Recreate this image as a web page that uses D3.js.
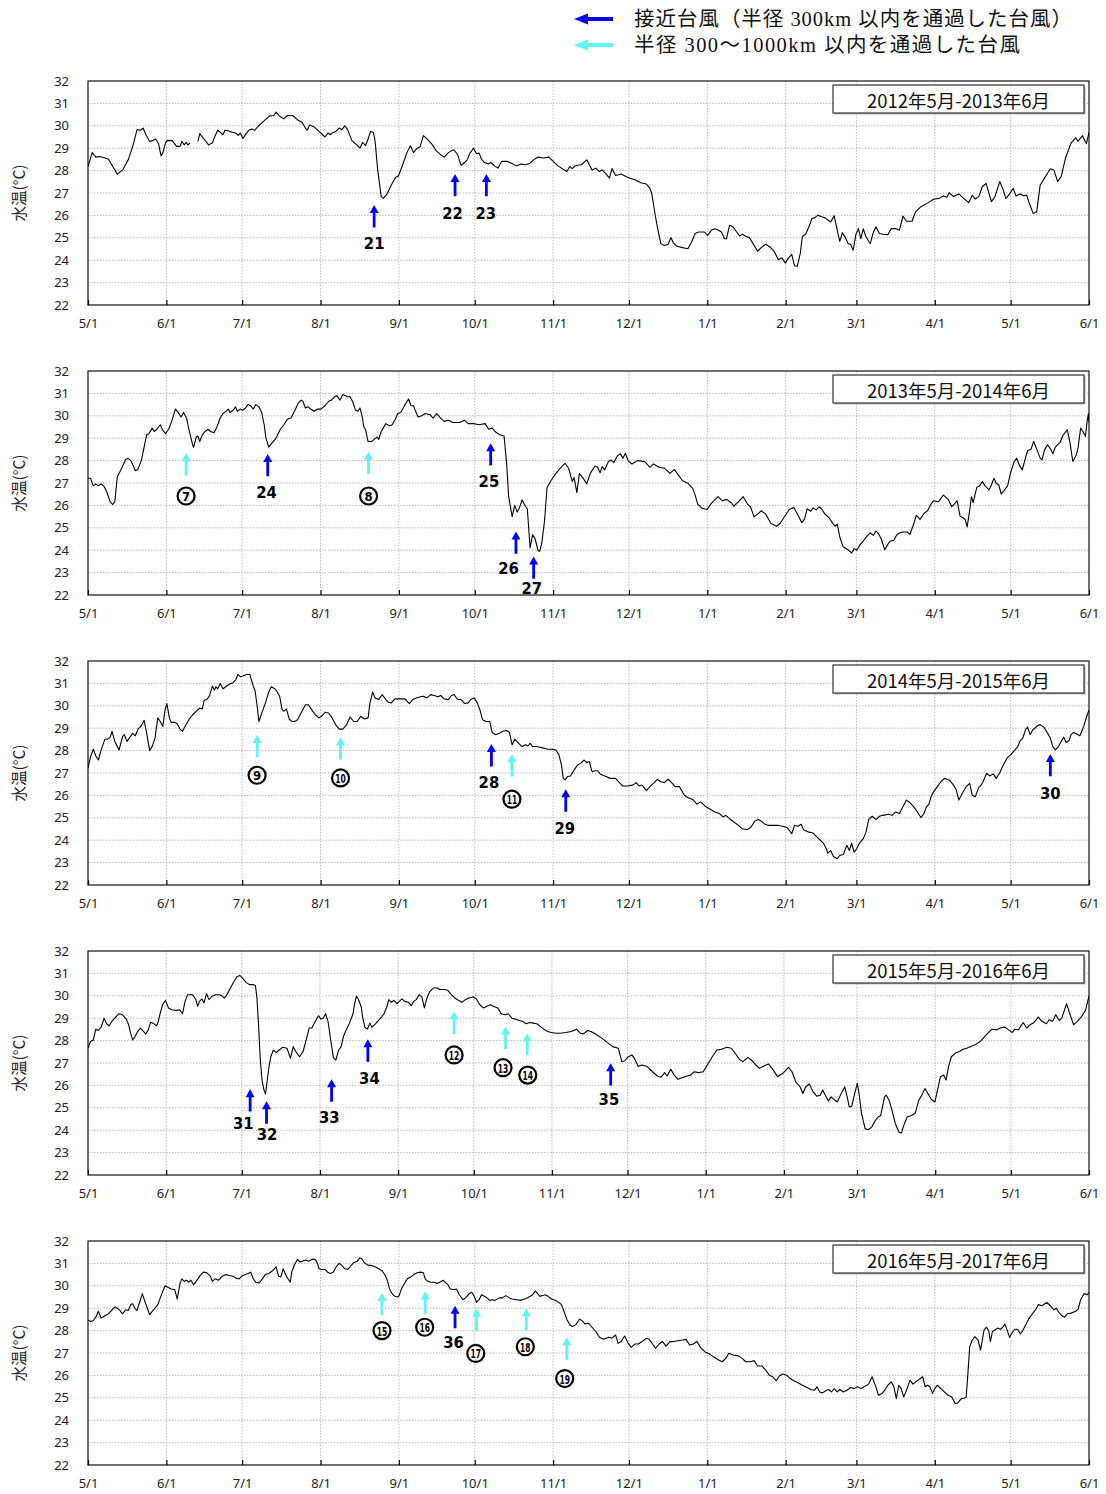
<!DOCTYPE html>
<html>
<head>
<meta charset="utf-8">
<script src="https://cdn.jsdelivr.net/npm/d3@7"></script>
<style>
  body { margin: 0; background: #fff; }
  svg { display: block; }
</style>
</head>
<body>
<svg id="chart" width="1106" height="1494"></svg>
<script>
// ---- Data -------------------------------------------------------------
// Daily water temperature (°C); each pair is [days since 1 May, °C].
const startYears = [2012, 2013, 2014, 2015, 2016];
const panelTitles = ["2012年5月-2013年6月", "2013年5月-2014年6月", "2014年5月-2015年6月",
                     "2015年5月-2016年6月", "2016年5月-2017年6月"];
const monthLabels = ["5/1","6/1","7/1","8/1","9/1","10/1","11/1","12/1","1/1","2/1","3/1","4/1","5/1","6/1"];
const tempTicks = [22, 23, 24, 25, 26, 27, 28, 29, 30, 31, 32];
const legendLabels = ["接近台風（半径 300km 以内を通過した台風）", "半径 300〜1000km 以内を通過した台風"];

const temps2012 = [[0,28.18],[1.7,28.81],[3.1,28.6],[4.5,28.63],[6.7,28.56],[8.1,28.51],[11.6,27.84],[13.7,28.03],[15.9,28.48],[17.7,29.08],[19.4,29.83],[20.8,29.8],[21.8,29.9],[22.9,29.6],[24.4,29.3],[25.8,29.35],[26.8,29.41],[27.9,29.2],[28.9,28.66],[29.6,28.78],[30.7,29.26],[31.4,29.35],[33.3,29.34],[35,29.08],[36.4,29.08],[37.1,29.3],[38.1,29.15],[38.8,29.26],[39.5,29.15],[40.4,29.23],[42,null],[43.5,29.3],[44.2,29.65],[45.9,29.41],[47.7,29.15],[49.2,29.23],[50.3,29.56],[51.3,29.8],[52.3,29.71],[53.4,29.6],[54.2,29.8],[55.5,29.78],[56.9,29.71],[58.4,29.68],[59.5,29.57],[60.2,29.68],[61.3,29.43],[62.5,29.65],[63.6,29.8],[64.7,29.86],[65.9,29.8],[67.3,29.98],[69.4,30.2],[71.8,30.43],[73.5,30.46],[74.4,30.61],[76.1,30.4],[77.5,30.31],[78.9,30.46],[81,30.46],[83.1,30.25],[84.6,30.17],[86,29.9],[86.7,29.8],[87.7,30.04],[89.5,29.95],[91.4,29.75],[92.8,29.6],[93.8,29.5],[94.9,29.68],[95.9,29.6],[96.6,29.68],[98,29.75],[99.4,29.9],[100.4,29.83],[101.6,30],[102.7,29.83],[104.4,29.34],[105.8,29.2],[107.6,29],[108.6,29.26],[109.8,29.11],[110.8,29.41],[111.8,29.75],[112.9,29.71],[113.6,29.3],[114.6,28.03],[116,26.84],[116.9,26.76],[118.3,26.96],[120,27.36],[121.7,27.7],[122.8,27.76],[124.5,28.26],[126.1,28.78],[127.5,29.11],[128.8,28.81],[130.2,29],[131.3,29.05],[132.7,29.56],[134.4,29.38],[136.3,29.15],[137.7,28.89],[139.5,28.71],[140.9,28.6],[142.4,28.78],[143.8,28.89],[144.8,28.93],[146.2,28.71],[147.6,28.23],[149,28.36],[150,28.48],[151.1,28.78],[152.5,29],[153.7,28.75],[154.7,28.78],[155.7,28.51],[156.8,28.36],[158.5,28.3],[159.3,28.36],[160.8,28.21],[162.2,28.11],[163.6,28.41],[166,28.41],[168.1,28.3],[169.5,28.21],[171.2,28.29],[173.1,28.26],[174.9,28.33],[176.6,28.51],[178,28.6],[180.2,28.56],[182.3,28.6],[185.9,28.21],[189.4,27.96],[190.6,28.18],[191.6,28.09],[193,28.23],[195.2,28.26],[197.3,28.48],[199.4,28.03],[200.9,28.11],[202.3,27.96],[203.4,28.03],[204.9,27.85],[206.3,27.66],[207.3,28.09],[208.7,27.78],[210.9,27.85],[213,27.73],[214.5,27.66],[216.6,27.58],[218.7,27.46],[220.9,27.4],[222.3,27.21],[223,26.99],[224.5,25.94],[225.5,25.34],[226.6,24.74],[228,24.66],[229.5,24.71],[230.6,25.01],[231.6,24.77],[233,24.62],[235.2,24.56],[237.3,24.51],[238.8,24.81],[240.2,25.19],[241.6,25.26],[243.8,25.26],[245.2,25.11],[246.6,25.34],[248,25.4],[249.5,25.34],[250.6,25.26],[251.8,24.96],[252.6,24.96],[253.8,25.56],[255.2,25.49],[256.6,25.26],[257.8,25.08],[258.9,25.16],[260.2,25.07],[261.6,25.01],[263.1,24.74],[264.9,24.4],[266.3,24.56],[268.1,24.71],[269.8,24.59],[271.6,24.37],[273.1,24.02],[274.5,24.11],[275.9,23.87],[276.9,24.07],[278.4,24.26],[279.5,23.75],[280.6,23.72],[281.8,24.32],[282.6,25.07],[283.8,25.14],[285.2,25.49],[286.4,25.86],[287.4,25.89],[288.8,26.01],[290.2,25.94],[291.6,25.89],[293.1,25.76],[293.8,25.71],[295.2,25.98],[296.4,25.34],[297.4,24.84],[298.4,25.22],[299.5,25.04],[300.7,24.74],[301.7,24.71],[302.7,24.44],[303.8,25.16],[304.8,25.41],[305.7,24.96],[306.7,25.4],[307.7,25.07],[308.8,24.86],[309.5,24.74],[310.5,25.19],[311.7,25.49],[313.1,25.19],[314.5,25.16],[316.4,25.14],[317.8,25.41],[319.5,25.41],[321,25.34],[322.4,25.97],[323.8,25.74],[326,25.74],[327.4,26.16],[329.5,26.39],[332.4,26.57],[334.5,26.72],[336.7,26.76],[338.4,26.87],[339.8,26.81],[340.7,27.01],[342.4,26.84],[344.5,26.96],[346.4,26.76],[348.4,26.57],[349.8,26.9],[351,26.73],[352.4,26.84],[353.8,27.28],[355.3,27.43],[356.4,26.99],[357.4,26.61],[358.8,26.84],[360.7,27.51],[362.1,27.13],[363.1,26.75],[364.6,26.96],[366,27.21],[367.1,26.87],[368.8,26.96],[370.3,26.87],[371.3,26.91],[372.4,26.54],[373.9,26.09],[375.3,26.16],[376.7,27.36],[378.9,27.76],[380.7,28.08],[382.1,28.03],[383.6,27.51],[385,27.73],[386.7,28.56],[388.9,29.23],[390.7,29.46],[391.7,29.31],[393.4,29.56],[395,29.2],[396,29.71]];

const temps2013 = [[0,27.21],[1,27.21],[2.1,26.87],[3.1,26.96],[4.1,26.87],[5.2,26.96],[6.4,26.84],[7.4,26.61],[8.8,26.16],[9.8,26.04],[10.6,26.16],[11.6,27.28],[13,27.58],[14.9,28.05],[15.9,28.1],[16.9,28],[18,27.75],[18.7,27.55],[19.7,27.6],[21.1,28],[22.2,28.6],[23.2,29.15],[24.1,29.2],[25.4,29.45],[26.2,29.3],[27.2,29.4],[28.6,29.6],[29.6,29.35],[30.7,29.2],[31.9,29.4],[33.1,29.75],[34.6,30.3],[35.7,30.15],[36.8,29.95],[37.8,30.15],[39,29.9],[39.9,29.4],[41.4,28.7],[41.8,28.6],[42.8,29.05],[43.5,29.1],[44.2,28.85],[45.2,29.15],[46.3,29.3],[47.5,29.4],[48.4,29.3],[49.9,29.25],[51,29.5],[52.3,29.9],[53.4,30.1],[54.5,30.2],[55.5,30.3],[56.2,30.15],[57.4,30.25],[58.4,30.4],[59.1,30.2],[60.2,30.3],[61.2,30.25],[62.3,30.35],[63.3,30.5],[64.4,30.45],[65.4,30.3],[66.4,30.5],[67.6,30.4],[68.7,30.15],[69.7,29.6],[70.4,29],[71.5,28.6],[72.5,28.75],[73.7,28.9],[74.6,29.05],[76.1,29.4],[77.5,29.6],[78.9,29.85],[80.3,29.9],[81.7,30.2],[83.1,30.55],[84.3,30.7],[85,30.65],[86,30.35],[87.1,30.4],[88.1,30.3],[89.5,30.2],[90.9,30.3],[92.1,30.3],[93.8,30.45],[95.2,30.65],[96.3,30.7],[97.6,30.85],[98.4,30.9],[99.7,30.7],[100.8,30.95],[102.7,30.85],[103.7,30.85],[104.8,30.6],[105.8,30.25],[106.8,30.2],[107.6,30.35],[108.6,29.9],[109.1,29.5],[109.8,29.4],[110.8,28.85],[112.2,28.85],[113.2,28.95],[114.3,29.05],[115,28.95],[116,29.3],[117.8,29.65],[119.3,29.55],[120.3,29.6],[121.4,29.8],[122.5,30.1],[123.7,30.15],[125.2,30.45],[126.8,30.75],[127.8,30.45],[128.8,30.45],[129.6,30.2],[130.6,29.95],[132,30],[133.4,30.1],[135.3,30.05],[136.5,29.9],[138,30.1],[139.5,29.9],[140.9,29.75],[142.6,29.8],[144.3,29.7],[146.9,29.7],[149,29.8],[150.4,29.65],[152.5,29.65],[154.7,29.6],[157.1,29.65],[158.5,29.4],[159.9,29.45],[161,29.3],[162.9,29.15],[164.6,29.1],[165.6,27.9],[166.4,26.4],[167.8,25.5],[168.8,26],[169.8,25.7],[170.7,25.9],[171.7,26.25],[173.1,25.95],[173.8,25.85],[174.9,24.1],[175.9,24.7],[176.9,24.5],[178,24],[178.7,23.95],[179.5,24.3],[180.6,25.3],[181.6,26.8],[182.6,27],[183.7,27.2],[185.1,27.43],[186.9,27.66],[188.7,27.88],[190.1,27.66],[191.6,27.06],[192.3,27.25],[193.4,26.57],[194.4,27.43],[195.9,27.21],[197.3,26.96],[198.7,27.43],[200.6,27.76],[201.6,27.7],[202.6,27.46],[203.4,27.73],[204.4,27.58],[205.9,27.96],[206.9,28.03],[208,27.91],[209.4,28.21],[210.6,28.3],[211.6,28.11],[212.6,28.33],[213.7,27.99],[215.2,27.85],[217.3,28],[220.2,27.96],[222.3,27.7],[223.7,27.85],[225.9,27.7],[228,27.66],[230.2,27.43],[232,27.61],[233.5,27.36],[235.2,27.1],[237.3,26.99],[239.2,26.76],[240.2,26.46],[241.2,26.06],[243,25.87],[244.9,25.82],[246.6,26.09],[249.2,26.39],[250.9,26.21],[252.6,26.27],[254.5,26.12],[255.5,25.97],[257.3,26.16],[259.2,26.39],[260.9,26.06],[262.1,25.94],[263.5,25.49],[264.9,25.61],[266.3,25.76],[268.1,25.61],[270.2,25.19],[272.3,25.07],[273.8,25.19],[275.5,25.49],[277.4,25.82],[279.2,25.91],[280.9,25.56],[282.4,25.23],[283.5,25.4],[284.5,25.85],[285.9,25.74],[286.9,25.89],[288.1,25.8],[289.2,25.94],[290.2,25.85],[291.6,25.6],[293.1,25.46],[294.5,25.22],[295.5,25.07],[296.4,25.16],[297.4,24.59],[298.8,24.14],[300.7,24.02],[302.1,23.87],[303.1,24.07],[304.2,24],[305.5,24.26],[306.7,24.41],[308.1,24.62],[309.5,24.77],[310.7,24.66],[311.7,24.86],[312.7,24.74],[313.8,24.51],[315.2,24.02],[316.4,24.26],[317.4,24.41],[318.8,24.44],[319.8,24.66],[321,24.77],[322.4,24.81],[324.1,24.81],[325.2,24.71],[326.7,25.19],[327.7,25.56],[329.2,25.37],[330.7,25.64],[332.1,25.76],[333.5,26.06],[334.5,26.21],[336.4,26.16],[338.4,26.46],[340.3,26.27],[341.7,25.94],[342.7,26.06],[343.8,26.21],[345,25.52],[346,25.46],[347,25.37],[347.8,25.04],[348.8,25.79],[349.5,26.39],[350.2,26.12],[351.6,26.81],[352.7,26.87],[353.8,27.06],[354.9,26.87],[356.4,26.69],[357.4,26.91],[358.4,27.21],[359.3,26.99],[360.3,26.91],[361.3,26.51],[362.4,26.66],[363.8,26.87],[364.9,27.43],[366.4,27.96],[367.4,28.11],[368.4,27.81],[369.6,27.58],[371,28.18],[371.7,28.45],[373.1,28.51],[374.1,28.86],[375.3,28.51],[376.7,28.11],[377.4,28.03],[378.4,28.48],[379.6,28.71],[381,28.48],[381.7,28.3],[382.7,28.6],[383.6,28.71],[384.6,28.81],[385.6,29.11],[387.4,29.38],[388.4,28.86],[389.6,27.96],[391,28.26],[391.7,28.6],[392.7,29.45],[393.6,29.3],[394.6,29.08],[395.3,29.8],[395.8,30.1],[396,29.7]];

const temps2014 = [[0,27.21],[1,27.73],[2.1,28.06],[3.1,27.76],[4.1,27.58],[5.2,28.03],[6.7,28.51],[7.8,28.51],[8.8,28.6],[9.5,28.86],[10.6,28.41],[12.3,28.03],[13.7,28.63],[14.4,28.71],[15.4,28.41],[16.6,28.6],[17.7,28.78],[18.7,28.66],[19.8,28.96],[21.1,29.11],[22.2,29.35],[23.2,28.78],[24.4,28],[25.4,28.18],[26.5,28.56],[27.6,29.46],[28.6,29.3],[29.6,29.08],[30.5,29.83],[31.2,30.1],[32.2,29.46],[32.9,29.26],[34.3,29.26],[35.3,29.2],[36.4,28.96],[37.4,28.86],[38.5,29.11],[39.9,29.38],[41.4,29.6],[43.2,29.8],[44.2,29.9],[45.2,29.86],[46,30.25],[47,30.28],[48,30.43],[49.2,30.88],[50,30.7],[50.6,30.85],[51.3,30.76],[52.3,31],[53.4,30.76],[54.5,30.85],[55.9,30.96],[57.4,31.03],[58.4,31.15],[59.3,31.4],[60.2,31.3],[61.2,31.33],[62.6,31.4],[64,31.4],[65.4,30.88],[66.1,30.66],[66.9,30],[67.6,29.3],[69,29.75],[70.4,30.2],[71.5,30.61],[72.5,30.85],[73.9,30.76],[74.6,30.66],[75.8,30.43],[76.8,29.83],[77.5,29.76],[78.5,29.86],[79.6,29.41],[80.6,29.3],[81.7,29.3],[82.9,29.38],[84.6,29.75],[86,30.05],[87.1,30.05],[88.5,29.83],[89.9,29.6],[91.4,29.46],[92.4,29.53],[93.8,29.71],[95.2,29.68],[96.6,29.46],[98,29.15],[99.4,28.96],[100.8,28.96],[102.3,29.15],[103.7,29.5],[105.1,29.3],[106.5,29.3],[107.9,29.53],[109.3,29.41],[110.8,29.46],[111.5,30.1],[112.6,30.61],[113.6,30.35],[115,30.28],[116.4,30.5],[117.8,30.28],[118.8,30.16],[120,30.13],[121.4,30.31],[123.5,30.31],[125.4,30.31],[127.1,30.1],[128.5,30.28],[129.9,30.35],[131.6,30.4],[132.7,30.43],[134.1,30.35],[135.6,30.5],[137,30.46],[138.4,30.4],[139.5,30.46],[140.9,30.31],[142.6,30.28],[143.8,30.46],[144.8,30.5],[146.2,30.28],[147.6,30.28],[149,30.1],[150.4,30.13],[151.4,30.28],[152.8,30.35],[154,30.13],[155.1,29.8],[156.1,29.38],[157.5,29.3],[158.9,29.3],[159.9,28.81],[161.3,28.71],[162.7,28.78],[164.2,28.86],[165.6,28.9],[166.7,28.81],[167.8,28.26],[168.8,28.51],[170.3,28.33],[171.7,28.18],[173.1,28.26],[174.1,28.21],[174.9,28.33],[175.9,28.18],[177.3,28.18],[178.8,28.15],[180.2,28.11],[182,28.06],[183.7,28.06],[185.1,28.03],[186.3,27.81],[187.3,27.36],[188,26.76],[188.7,26.69],[189.7,26.84],[190.9,26.87],[192.3,27.13],[193.7,27.36],[194.9,27.43],[196.3,27.58],[197.3,27.46],[198.3,27.51],[199.4,27.06],[200.6,27.1],[201.6,27.1],[202.6,26.96],[204.4,26.87],[206.6,26.76],[208.7,26.76],[210.2,26.57],[211.6,26.42],[213.4,26.42],[215.5,26.46],[216.9,26.57],[218,26.42],[219.2,26.46],[220.9,26.21],[222.3,26.39],[223.7,26.54],[225.2,26.72],[226.6,26.61],[228,26.57],[229.5,26.72],[230.9,26.57],[232.3,26.39],[234,26.39],[235.9,26.01],[237.3,25.91],[239.2,25.82],[240.9,25.61],[242.3,25.71],[244.5,25.49],[246.3,25.37],[248,25.26],[249.8,25.19],[251.2,25.04],[252.3,25.11],[253.8,24.96],[255.5,24.81],[257.3,24.66],[258.8,24.51],[260.9,24.47],[262.3,24.59],[263.8,24.86],[265.2,24.92],[266.3,24.86],[267.8,24.71],[269.2,24.66],[270.9,24.66],[273.1,24.66],[274.9,24.62],[276.6,24.56],[278.4,24.29],[279.5,24.66],[280.9,24.62],[282.1,24.71],[283.1,24.47],[285.2,24.36],[286.9,24.32],[288.4,24.14],[289.5,24.02],[290.9,23.87],[292.1,23.62],[292.6,23.42],[293.8,23.54],[294.9,23.27],[296.4,23.17],[297.4,23.32],[298.8,23.36],[300.2,23.77],[301.2,23.54],[302.1,23.87],[303.1,23.47],[304.1,23.62],[305.2,23.87],[306.7,24.07],[307.8,24.36],[308.8,24.92],[310.2,25.07],[311.7,24.92],[313.1,25.07],[314.5,25.11],[316.7,25.16],[318.1,25.11],[319.5,25.26],[321,25.19],[322.4,25.49],[323.8,25.79],[325.2,25.67],[326.7,25.49],[328.1,25.26],[329.5,25.01],[330.7,25.19],[331.7,25.49],[332.7,25.61],[333.5,25.94],[334.5,26.16],[336,26.39],[337.4,26.61],[338.8,26.76],[339.8,26.72],[341,26.66],[342.4,26.46],[343.5,26.24],[344.5,25.79],[346,26.12],[347.4,26.39],[348.8,26.54],[349.8,26.01],[351,25.94],[352.4,26.36],[353.1,26.42],[354.1,26.61],[355.5,26.99],[356.7,26.87],[358.1,26.96],[359.3,26.76],[360.7,27.01],[362.1,27.36],[363.8,27.7],[365,27.81],[366.7,28.03],[367.8,28.18],[368.8,28.45],[369.8,28.56],[370.9,28.93],[371.7,29.05],[372.7,28.71],[373.8,28.93],[374.6,29],[375.6,29.11],[376.7,29.16],[378.1,29.05],[379.6,28.78],[380.7,28.56],[381.7,28.18],[382.7,28.03],[383.9,28.18],[385,28.41],[386,28.6],[387,28.36],[388.1,28.45],[388.9,28.71],[389.9,28.81],[391,28.75],[392.4,28.66],[393.9,29.08],[395.3,29.6],[396,29.8]];

const temps2015 = [[0,27.66],[1,27.96],[2.1,28.03],[3.1,28.51],[4.1,28.45],[5.2,28.6],[6.4,29],[7.4,28.75],[8.4,28.66],[9.5,28.86],[10.6,29],[12.3,29.2],[13.7,29.15],[15.2,28.96],[16.1,28.71],[16.9,28.33],[17.7,28.03],[18.7,28.18],[19.7,28.41],[20.8,28.56],[22,28.41],[22.9,28.3],[23.9,28.48],[24.8,28.81],[25.8,28.78],[27.2,28.66],[27.9,28.86],[28.6,29.2],[29.6,29.6],[30.7,29.8],[31.9,29.46],[33.3,29.38],[35,29.35],[36.4,29.38],[37.5,29.2],[38.5,29.75],[39.5,30.05],[41.4,30.05],[42.8,29.83],[43.5,29.53],[44.2,29.75],[45.2,29.86],[46,29.68],[47,30.1],[48,29.83],[49.2,29.98],[50.6,30.05],[52,30.05],[53.1,30],[54.1,29.9],[55.1,30.05],[56.2,30.28],[57.6,30.58],[59.1,30.85],[60.2,30.91],[61.2,30.8],[62.6,30.61],[64,30.5],[65.4,30.5],[66.4,30.46],[67,29.9],[67.6,28.78],[68.3,27.21],[69,26.24],[69.8,25.79],[70.4,25.61],[71.1,26.24],[71.8,26.84],[72.5,27.28],[73.5,27.58],[74.6,27.46],[75.8,27.58],[77.2,27.7],[78.9,27.66],[80.3,27.21],[81.4,27.73],[82.4,27.51],[83.9,27.28],[85.3,27.51],[86.7,28.11],[87.7,28.56],[88.8,28.56],[89.9,28.81],[91.4,29.11],[92.4,28.96],[93.3,29],[94.2,29.2],[95.2,28.86],[96.2,28.06],[97.3,27.25],[98.3,27.13],[99.4,27.58],[100.4,27.73],[101.3,28.18],[102.3,28.45],[103.7,28.78],[105.1,29.2],[105.8,29.68],[106.5,29.98],[107.2,29.86],[108.4,29.5],[108.9,29.05],[109.8,28.6],[110.8,28.51],[111.8,28.78],[112.6,28.6],[114,28.75],[115.4,28.93],[116.4,29.05],[117.4,29.2],[118.6,29.53],[119.3,29.83],[120.3,29.71],[121.4,29.8],[122.5,29.65],[123.5,29.75],[124.5,29.86],[125.6,29.75],[127.1,29.71],[128.2,29.56],[129.2,29.75],[130.2,29.83],[131.3,30.05],[132.4,29.95],[133.4,29.46],[134.4,29.9],[135.6,30.2],[137,30.35],[138.4,30.35],[139.5,30.28],[141.5,30.28],[142.6,30.25],[144.1,30.05],[145.5,29.9],[146.9,29.8],[148.3,29.71],[149.7,29.83],[151.1,29.9],[152.8,29.95],[154,29.86],[155.4,29.6],[156.8,29.46],[158.2,29.53],[159.6,29.6],[160.8,29.53],[162.5,29.46],[163.9,29.2],[165.3,29.15],[166.7,29.2],[168.1,29],[169.5,28.96],[171,28.9],[172.4,28.86],[173.8,28.75],[175.2,28.81],[176.6,28.78],[178,28.75],[179.7,28.6],[181.2,28.48],[182.3,28.41],[183.7,28.36],[185.8,28.33],[187.3,28.33],[189.5,28.36],[191.6,28.41],[193.8,28.51],[195.2,28.33],[196.6,28.3],[198.1,28.45],[199.5,28.41],[201.7,28.26],[203.8,28.11],[206,27.91],[208.1,27.73],[210.3,27.66],[211.7,27.06],[212.9,27.1],[214.3,27.28],[215.7,27.36],[216.7,27.21],[218.2,26.84],[219.6,26.91],[221.8,26.84],[223.9,26.61],[225.8,26.42],[227.2,26.36],[228.7,26.57],[229.7,26.42],[231.1,26.72],[232.5,26.46],[234,26.27],[236.1,26.36],[237.6,26.42],[239,26.46],[240.4,26.61],[242.2,26.57],[244,26.61],[245.9,26.96],[247.6,27.28],[249.4,27.58],[251.2,27.61],[253.4,27.7],[255.1,27.66],[256.5,27.46],[258.4,27.16],[259.8,27.06],[261.7,27.25],[263.4,27.1],[264.9,26.91],[266.3,26.76],[268,26.87],[269.9,26.96],[271.3,26.76],[273.5,26.39],[275.6,26.54],[277.8,26.81],[279.2,26.61],[280.7,26.16],[282.4,25.94],[283.5,25.64],[284.7,25.94],[286.1,26.06],[287.6,25.71],[289,25.52],[290.4,25.56],[291.4,25.79],[292.4,25.56],[293.6,25.31],[294.7,25.49],[296.2,25.34],[297.2,25.26],[298.6,25.61],[300.1,25.94],[301.1,25.49],[301.9,25.04],[302.9,25.07],[303.9,25.56],[305.1,26.09],[305.8,25.64],[306.8,24.74],[308.2,24.07],[309.4,24.02],[310.8,24.14],[312.3,24.44],[313.4,24.59],[314.4,24.66],[315.9,25.49],[316.6,25.56],[317.7,25.34],[318.7,24.96],[320.2,24.29],[321.6,23.92],[322.6,23.87],[323.8,24.29],[324.9,24.59],[326.6,24.66],[328.1,24.77],[329.5,25.34],[330.9,25.61],[331.9,25.86],[333.1,25.64],[334.5,25.37],[335.9,25.26],[336.9,25.79],[338.1,26.39],[339.3,26.46],[340.3,26.24],[341.3,26.84],[342.4,27.28],[344.2,27.46],[345.6,27.51],[347,27.61],[348.5,27.66],[349.9,27.73],[351.8,27.81],[353.9,27.96],[355.6,28.18],[357.1,28.36],[358.5,28.51],[360.4,28.48],[361.8,28.56],[363.7,28.6],[365.1,28.48],[366.6,28.36],[367.6,28.51],[369,28.48],[370.9,28.81],[372.3,28.56],[373.7,28.71],[375.2,28.81],[376.9,29.05],[378.3,28.86],[380.1,28.75],[381.2,28.93],[382.6,28.86],[383.8,29.16],[385.2,28.9],[386.2,29],[388.1,29.65],[389.5,29.16],[390.9,28.71],[392.4,28.86],[394.1,29.08],[395.6,29.35],[397,30]];

const temps2016 = [[0,28.48],[1,28.41],[2.1,28.45],[3.1,28.6],[4.1,28.86],[5.2,28.56],[6.7,28.66],[8.1,28.75],[9.5,28.93],[10.6,29.05],[11.6,29],[12.6,28.9],[13.7,28.75],[14.9,28.93],[15.9,28.9],[16.9,29.16],[17.7,29.2],[18.7,28.96],[19.4,28.9],[20.5,29.3],[21.5,29.65],[22.5,29.3],[23.7,28.93],[24.4,28.71],[25.4,28.86],[26.5,29],[27.6,29.16],[28.6,29.46],[29.6,29.76],[30.5,30],[31.4,29.95],[32.9,29.86],[34.3,29.83],[35.3,29.41],[36.4,30.1],[37.1,30.31],[38.1,30.2],[39,30.25],[39.9,30.16],[40.7,30.25],[41.8,30.05],[42.8,30.2],[44.2,30.43],[45.6,30.61],[47,30.58],[48.4,30.43],[49.2,30.2],[50.3,30.31],[51.7,30.25],[53.1,30.43],[54.5,30.5],[55.9,30.46],[57.4,30.43],[58.4,30.35],[59.8,30.31],[60.8,30.43],[62.2,30.5],[63.3,30.55],[64.4,30.61],[65.4,30.31],[66.4,30.16],[67.8,30.13],[69,30.31],[70.1,30.5],[71.5,30.55],[72.9,30.66],[74.4,30.85],[75.4,30.43],[76.3,30.4],[77.2,30.76],[78.2,30.5],[78.9,30.35],[80,30.16],[80.6,30.61],[81.7,30.95],[82.9,31.18],[83.9,31.06],[84.8,31.1],[86,31.15],[87.4,31.1],[88.8,31.2],[89.9,31.18],[90.7,31.03],[91.4,30.76],[92.4,30.73],[93.8,30.73],[94.8,30.61],[95.9,30.55],[97,30.61],[98.4,30.88],[99.4,31],[100.4,30.91],[101.6,30.76],[102.7,30.73],[103.7,30.85],[105.1,31.03],[106.5,31.1],[107.5,31.25],[108.4,31.2],[109.3,31.03],[110.8,30.91],[112.2,30.91],[113.6,30.85],[115,30.76],[116.4,30.66],[117.4,30.5],[118.3,30.28],[119.3,29.86],[120.3,29.65],[121.4,29.53],[122.5,29.5],[123.1,29.56],[123.9,29.83],[124.9,30.05],[126.3,30.31],[127.8,30.4],[128.8,30.5],[130.2,30.58],[131.6,30.61],[132.7,30.58],[133.4,30.31],[134.4,30.2],[135.6,30.16],[137,30.16],[138.1,30.1],[139.1,30.16],[140.5,30.25],[141.5,30.13],[142.4,30.05],[143.3,29.86],[144.8,29.83],[145.8,29.86],[146.9,29.6],[148.3,29.38],[149.4,29.46],[150.8,29.65],[151.8,29.71],[152.8,29.53],[153.7,29.26],[154.7,29.38],[155.7,29.6],[156.8,29.53],[157.9,29.46],[158.9,29.35],[159.9,29.38],[161,29.35],[162.7,29.46],[163.9,29.46],[165.3,29.56],[166.7,29.46],[167.8,29.41],[169.5,29.38],[171,29.35],[172.7,29.41],[173.8,29.46],[174.9,29.53],[175.9,29.6],[176.9,29.76],[177.7,29.68],[178.7,29.53],[179.7,29.56],[180.9,29.6],[182,29.53],[183.4,29.41],[184.8,29.35],[186.3,29.26],[187.3,29.16],[188.3,28.86],[189.4,28.51],[190.6,28.26],[191.6,28.18],[193,28.26],[194.4,28.51],[195.4,28.45],[196.6,28.3],[198,28.33],[199.4,28.15],[200.9,27.96],[202.3,27.7],[204,27.61],[205.9,27.7],[207.3,27.66],[208.7,27.81],[209.7,27.43],[210.9,27.51],[212.3,27.76],[213.7,27.43],[214.9,27.25],[216.3,27.4],[217.7,27.4],[219.2,27.51],[220.9,27.66],[222,27.61],[223,27.46],[224.5,27.21],[225.9,27.4],[227.3,27.51],[228.7,27.31],[230.2,27.51],[231.6,27.51],[233.5,27.55],[235.2,27.58],[236.6,27.61],[238,27.36],[239.5,27.4],[240.9,27.51],[242.3,27.25],[244,27.06],[245.9,26.96],[247.3,26.84],[249.5,26.69],[250.9,26.61],[252.3,26.76],[253.5,26.99],[255.2,26.91],[257.3,26.87],[258.8,26.76],[260.2,26.61],[262.1,26.61],[263.5,26.66],[264.9,26.42],[266.6,26.42],[268.1,26.24],[269.5,26.01],[270.9,25.94],[272.3,25.76],[273.5,25.97],[274.9,26.06],[276.4,26.01],[277.8,25.86],[279.2,25.76],[280.9,25.67],[282.6,25.56],[284.5,25.46],[285.9,25.37],[287.4,25.34],[288.4,25.49],[289.5,25.26],[290.6,25.22],[292.1,25.34],[293.1,25.37],[294.1,25.26],[295.2,25.41],[296.4,25.26],[297.4,25.37],[298.8,25.26],[300.2,25.34],[301.7,25.46],[303.1,25.41],[304.5,25.49],[305.9,25.41],[307.4,25.52],[308.8,25.61],[310.2,25.94],[311.7,25.49],[312.7,25.11],[314.1,25.19],[315.2,25.34],[316.4,25.56],[317.8,25.71],[318.8,25.49],[319.8,24.96],[320.7,25.56],[321.7,25.41],[322.7,25.04],[323.8,25.34],[325.2,25.79],[326.4,25.61],[327.4,25.71],[328.8,25.82],[330.2,25.94],[331.2,25.49],[332.1,25.56],[333.1,25.49],[334.1,25.19],[335,25.41],[336,25.56],[337.4,25.41],[338.8,25.26],[340.3,25.11],[341.7,25.04],[343.1,24.74],[344.1,24.77],[345.5,24.96],[347.4,25.01],[348.1,26.09],[348.8,27.28],[349.8,27.58],[350.9,27.73],[352.1,27.58],[353.1,27.13],[353.8,27.58],[354.5,28.03],[355.5,28.15],[356.4,27.96],[357,27.51],[357.8,27.96],[358.8,28.03],[359.8,28.11],[361,28.06],[362.1,28.18],[362.7,28.3],[363.6,28.03],[364.6,27.7],[365.6,27.91],[366.7,28.06],[367.8,28.06],[368.8,27.85],[369.8,28],[371,28.26],[372.1,28.51],[373.6,28.75],[375,28.96],[376,29.16],[377.4,29.11],[379.3,29.26],[380.7,29.11],[382.1,28.93],[383.1,29],[384.1,28.81],[385.3,28.66],[386.4,28.6],[387.4,28.75],[388.9,28.78],[390.7,28.86],[391.7,28.96],[392.7,29.38],[394.1,29.65],[395.3,29.6],[396,29.71]];

// Typhoon passages: [day since 1 May, arrow tip °C, label day, label °C, number, kind]
// kind "near" = passed within 300 km, "far" = passed within 300–1000 km
const typhoons2012 = [[113.2,26.46,113.2,24.74,"21","near"],[145.2,27.85,144.2,26.09,"22","near"],[157.6,27.85,157.4,26.09,"23","near"]];
const typhoons2013 = [[38.8,28.33,38.8,26.42,"7","far"],[71.1,28.3,70.6,26.58,"24","near"],[111.0,28.4,111.0,26.42,"8","far"],[159.3,28.78,158.6,27.06,"25","near"],[169.3,24.84,166.4,23.17,"26","near"],[176.3,23.72,175.6,22.27,"27","near"]];
const typhoons2014 = [[66.9,28.7,66.9,26.9,"9","far"],[99.9,28.6,99.9,26.78,"10","far"],[159.6,28.29,158.6,26.58,"28","near"],[167.7,27.84,167.7,25.83,"11","far"],[189.0,26.27,188.6,24.51,"29","near"],[380.7,27.85,380.7,26.09,"30","near"]];
const typhoons2015 = [[64.3,25.83,61.6,24.32,"31","near"],[70.8,25.29,71.0,23.8,"32","near"],[96.6,26.27,95.7,24.56,"33","near"],[111.0,28.06,111.6,26.31,"34","near"],[145.2,29.3,145.2,27.36,"12","far"],[165.6,28.63,164.6,26.79,"13","far"],[174.2,28.33,174.4,26.46,"14","far"],[207.3,26.99,206.6,25.37,"35","near"]];
const typhoons2016 = [[116.3,29.68,116.3,28.0,"15","far"],[133.4,29.75,133.2,28.15,"16","far"],[145.2,29.11,144.6,27.46,"36","near"],[153.7,28.98,153.4,26.98,"17","far"],[173.4,29.0,173.0,27.28,"18","far"],[189.4,27.7,188.6,25.86,"19","far"]];

const panelTemps = [temps2012, temps2013, temps2014, temps2015, temps2016];
const panelTyphoons = [typhoons2012, typhoons2013, typhoons2014, typhoons2015, typhoons2016];

// ---- Layout & style ---------------------------------------------------
const W = 1106, H = 1494;
const plotLeft = 88, plotRight = 1089;
const firstTop = 81, panelStep = 290, plotH = 224;
const kindColor = { near: "#0000ff", far: "#5ef5f5" };
const tickFont = "'Noto Sans', 'Open Sans', sans-serif";
const cjkFont = "'Noto Sans CJK JP', 'Noto Sans', sans-serif";
const numFont = "'Liberation Sans Narrow', 'DejaVu Sans Condensed', 'Liberation Sans', sans-serif";
const DAY = 864e5;

const svg = d3.select("#chart");
svg.append("rect").attr("width", W).attr("height", H).attr("fill", "#fff");

// ---- Legend -----------------------------------------------------------
const legendKinds = ["near", "far"];
const legendWidths = [438, 386];
const legend = svg.append("g");
legendKinds.forEach((kind, i) => {
  const ly = 19 + i * 26;
  legend.append("path")
    .attr("d", `M574,${ly} L588,${ly - 5.5} L588,${ly - 2} L613,${ly - 2} L613,${ly + 2} L588,${ly + 2} L588,${ly + 5.5} Z`)
    .attr("fill", kindColor[kind]);
  legend.append("text")
    .attr("x", 634).attr("y", ly)
    .attr("dominant-baseline", "central")
    .attr("font-family", "'Liberation Serif', 'Noto Sans CJK JP', serif")
    .attr("font-size", 20.5)
    .attr("fill", "#111")
    .attr("textLength", legendWidths[i])
    .attr("lengthAdjust", "spacing")
    .text(legendLabels[i]);
});

// ---- Typhoon arrow helper --------------------------------------------
function upArrow(g, cx, tipY, len, color) {
  const hw = 4.5, hl = 8, sw = 1.4;
  g.append("path")
    .attr("d", `M${cx},${tipY} L${cx + hw},${tipY + hl} L${cx + sw},${tipY + hl} L${cx + sw},${tipY + len} ` +
               `L${cx - sw},${tipY + len} L${cx - sw},${tipY + hl} L${cx - hw},${tipY + hl} Z`)
    .attr("fill", color);
}

// ---- Panels -----------------------------------------------------------
startYears.forEach((year, i) => {
  const top = firstTop + i * panelStep, bottom = top + plotH;
  const start = new Date(Date.UTC(year, 4, 1));
  const end = new Date(Date.UTC(year + 1, 5, 1));
  const x = d3.scaleUtc().domain([start, end]).range([plotLeft, plotRight]);
  const y = d3.scaleLinear().domain([tempTicks[0], tempTicks[tempTicks.length - 1]]).range([bottom, top]);
  const at = d => new Date(start.getTime() + d * DAY);
  const months = d3.utcMonth.range(start, d3.utcDay.offset(end, 1));

  const g = svg.append("g");

  // grid
  g.append("g").selectAll("line").data(tempTicks.slice(1, -1)).join("line")
    .attr("x1", plotLeft).attr("x2", plotRight)
    .attr("y1", d => y(d)).attr("y2", d => y(d))
    .attr("stroke", "#a8a8a8").attr("stroke-width", 0.8).attr("stroke-dasharray", "1.5,1.5");
  g.append("g").selectAll("line").data(months.slice(1, -1)).join("line")
    .attr("x1", d => x(d)).attr("x2", d => x(d))
    .attr("y1", top).attr("y2", bottom)
    .attr("stroke", "#a8a8a8").attr("stroke-width", 0.8).attr("stroke-dasharray", "1.5,1.5");

  // axes
  const xAxis = g.append("g").attr("transform", `translate(0,${bottom})`)
    .call(d3.axisBottom(x).tickValues(months).tickFormat((d, k) => monthLabels[k])
      .tickSizeInner(-5).tickSizeOuter(0).tickPadding(14));
  const yAxis = g.append("g").attr("transform", `translate(${plotLeft},0)`)
    .call(d3.axisLeft(y).tickValues(tempTicks).tickFormat(d3.format("d")).tickSize(0).tickPadding(19));
  [xAxis, yAxis].forEach(a => {
    a.select(".domain").remove();
    a.selectAll(".tick line").attr("stroke", "#000").attr("stroke-width", 1.2);
    a.selectAll("text").attr("font-family", tickFont).attr("font-size", 13).attr("fill", "#222");
  });

  // frame
  g.append("rect")
    .attr("x", plotLeft).attr("y", top)
    .attr("width", plotRight - plotLeft).attr("height", plotH)
    .attr("fill", "none").attr("stroke", "#111").attr("stroke-width", 1.2);

  // y title
  g.append("text")
    .attr("transform", `translate(18,${top + plotH / 2}) rotate(-90)`)
    .attr("text-anchor", "middle").attr("dominant-baseline", "central")
    .attr("font-family", cjkFont).attr("font-size", 15.5).attr("fill", "#222")
    .text("水温(°C)");

  // temperature line
  const clipId = `clip${i}`;
  g.append("clipPath").attr("id", clipId).append("rect")
    .attr("x", plotLeft).attr("y", top).attr("width", plotRight - plotLeft).attr("height", plotH);
  const line = d3.line()
    .defined(d => d[1] != null)
    .x(d => x(at(d[0])))
    .y(d => y(d[1]));
  g.append("path")
    .datum(panelTemps[i])
    .attr("clip-path", `url(#${clipId})`)
    .attr("d", line)
    .attr("fill", "none").attr("stroke", "#000").attr("stroke-width", 1.1)
    .attr("stroke-linejoin", "round");

  // period title box
  const bw = 251, bh = 28;
  const bx = plotRight - 5 - bw, by = top + 4;
  g.append("rect").attr("x", bx + 1.5).attr("y", by + 1.5).attr("width", bw).attr("height", bh).attr("fill", "#bbb");
  g.append("rect").attr("x", bx).attr("y", by).attr("width", bw).attr("height", bh)
    .attr("fill", "#fff").attr("stroke", "#333").attr("stroke-width", 1.2);
  g.append("text")
    .attr("x", bx + bw / 2).attr("y", by + bh / 2 + 1)
    .attr("text-anchor", "middle").attr("dominant-baseline", "central")
    .attr("font-family", cjkFont).attr("font-size", 18.5).attr("fill", "#111")
    .text(panelTitles[i]);

  // typhoon arrows and labels
  panelTyphoons[i].forEach(([day, tip, lday, lt, name, kind]) => {
    const cx = x(at(day));
    const tipY = y(tip);
    const len = y(tip - 1) - tipY;
    upArrow(g, cx, tipY, len, kindColor[kind]);
    const lx = x(at(lday)), ly = y(lt);
    if (kind === "near") {
      g.append("text")
        .attr("x", lx).attr("y", ly)
        .attr("text-anchor", "middle").attr("dominant-baseline", "central")
        .attr("font-family", numFont).attr("font-weight", "bold")
        .attr("font-size", 16.5).attr("fill", "#000")
        .text(name);
    } else {
      g.append("circle").attr("cx", lx).attr("cy", ly).attr("r", 8.5)
        .attr("fill", "#fff").attr("stroke", "#000").attr("stroke-width", 2.2);
      const t = g.append("text")
        .attr("x", lx).attr("y", ly + 0.5)
        .attr("text-anchor", "middle").attr("dominant-baseline", "central")
        .attr("font-family", numFont).attr("font-weight", "bold")
        .attr("font-size", 13).attr("fill", "#000")
        .text(name);
      if (name.length > 1) t.attr("textLength", 10.5).attr("lengthAdjust", "spacingAndGlyphs");
    }
  });
});
</script>
</body>
</html>
